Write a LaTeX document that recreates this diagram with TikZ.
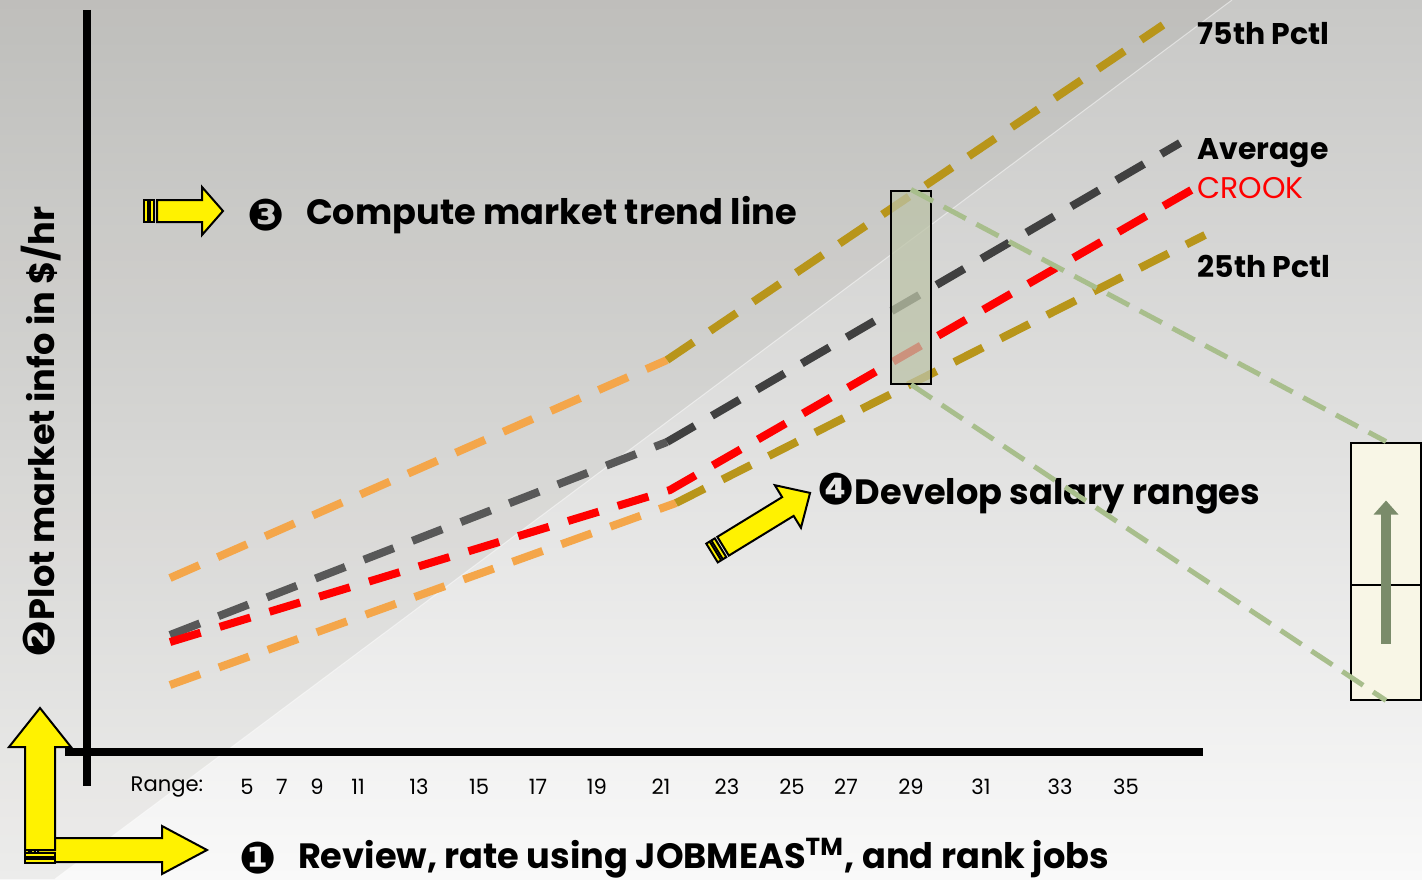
\documentclass[tikz,border=0pt]{standalone}
\usepackage{fontspec}
\setmainfont{Poppins}
\newfontfamily\dingfont{DejaVu Sans}[Scale=1.25]
\usepackage{tikz}
\usetikzlibrary{arrows,arrows.meta,calc,positioning,shapes}
\newdimen\pxdim
\pxdim=0.01cm
\definecolor{bgtop}{HTML}{C8C8C6}
\definecolor{bgbottom}{HTML}{F9F9F9}
\definecolor{pctllow}{HTML}{F4A64A}
\definecolor{pctlhigh}{HTML}{B8951A}
\definecolor{avglow}{HTML}{585858}
\definecolor{avghigh}{HTML}{404040}
\definecolor{crook}{HTML}{FF0000}
\definecolor{zoomgreen}{HTML}{A8BE8C}
\definecolor{boxgreen}{HTML}{BCC3A8}
\definecolor{boxcream}{HTML}{F8F6E6}
\definecolor{arrowgreen}{HTML}{7A8B6A}
\tikzstyle{trend}=[
  line width=8\pxdim,
  dash pattern=on 32\pxdim off 20\pxdim,
]
\tikzstyle{axis}=[
  black,
  line width=8\pxdim,
]
\tikzstyle{steplabel}=[
  font={\fontsize{10pt}{12pt}\selectfont\bfseries},
  inner sep=0pt,
]
\tikzstyle{pctl}=[
  anchor=west,
  font={\fontsize{8.5pt}{10pt}\selectfont\bfseries},
  inner sep=0pt,
]
\tikzstyle{tick}=[
  font={\fontsize{6pt}{7pt}\selectfont},
  inner sep=0pt,
]
\tikzstyle{zoomline}=[
  color=zoomgreen,
  line width=5\pxdim,
  dash pattern=on 25\pxdim off 12\pxdim,
]
\tikzstyle{yellowarrow}=[
  draw=black,
  fill=yellow,
  line width=2\pxdim,
]
\tikzstyle{zoombox}=[
  draw=black,
  fill=boxgreen,
  fill opacity=.75,
  inner sep=0pt,
  line width=2\pxdim,
  minimum height=193\pxdim,
  minimum width=40\pxdim,
  rectangle,
]
\tikzstyle{rangebox}=[
  draw=black,
  fill=boxcream,
  inner sep=0pt,
  line width=2\pxdim,
  minimum height=257\pxdim,
  minimum width=70\pxdim,
  rectangle,
]
\tikzset{
  x=0.01cm,
  y=-0.01cm,
  pics/stripearrow/.style args={#1/#2/#3/#4}{code={
    \draw [yellowarrow] (13,-#2) -- ({#1-#4},-#2) -- ({#1-#4},-#3) -- (#1,0)
      -- ({#1-#4},#3) -- ({#1-#4},#2) -- (13,#2) -- cycle;
    \draw [yellowarrow] (0,-#2) rectangle (4,#2);
    \draw [yellowarrow] (6,-#2) rectangle (10,#2);
  }},
}
\begin{document}
\begin{tikzpicture}
  \useasboundingbox (0,0) rectangle (1422,879);
  \shade [top color=bgtop, bottom color=bgbottom] (0,0) rectangle (1422,879);
  \fill [black!70!olive, opacity=.065] (0,0) -- (1232,0) -- (55,879) -- (0,879) -- cycle;
  \draw [white, opacity=.5, line width=1\pxdim] (1232,0) -- (55,879);
  %%
  \draw [axis] (87,10) -- (87,786);
  \draw [axis] (65,752) -- (1203,752);
  \node (range) [tick, anchor=west] at (130,787) {Range:};
  \foreach \n/\x in {5/247,7/282,9/317,11/358,13/419,15/479,17/538,19/597,
    21/661,23/727,25/792,27/846,29/911,31/981,33/1060,35/1126}
    \node (tick\n) [tick] at (\x,787) {\n};
  %%
  \coordinate (p75a) at (170,578);
  \coordinate (p75b) at (667,360);
  \coordinate (p75c) at (1163,25);
  \coordinate (avga) at (170,635);
  \coordinate (avgb) at (667,442);
  \coordinate (avgc) at (1180,143);
  \coordinate (crka) at (170,642);
  \coordinate (crkb) at (670,490);
  \coordinate (crkc) at (1200,185);
  \coordinate (p25a) at (170,685);
  \coordinate (p25b) at (676,503);
  \coordinate (p25c) at (1205,235);
  \draw [trend, pctllow] (p75a) -- (p75b);
  \draw [trend, pctlhigh] (p75b) -- (p75c);
  \draw [trend, avglow] (avga) -- (avgb);
  \draw [trend, avghigh] (avgb) -- (avgc);
  \draw [trend, crook] (crka) -- (crkb) -- (crkc);
  \draw [trend, pctllow] (p25a) -- (p25b);
  \draw [trend, pctlhigh] (p25b) -- (p25c);
  %%
  \node (p75lab) [pctl] at (1197,34) {75th Pctl};
  \node (avglab) [pctl] at (1197,153) {Average};
  \node (crklab) [pctl, crook, font={\fontsize{8.5pt}{10pt}\selectfont}] at (1197,188) {CROOK};
  \node (p25lab) [pctl] at (1197,266) {25th Pctl};
  %%
  \node (step3) [steplabel] at (266,215) {\dingfont ❸};
  \node (compute) [steplabel, right=20\pxdim of step3] {Compute market trend line};
  \node (step1) [steplabel] at (258,858) {\dingfont ❶};
  \node (review) [steplabel, right=20\pxdim of step1] {Review, rate using JOBMEAS\textsuperscript{TM}, and rank jobs};
  \node (plot) [steplabel, rotate=90] at (41,432) {{\dingfont ❷}Plot market info in \$/hr};
  \node (develop) [steplabel, anchor=west] at (817,494) {{\dingfont ❹}Develop salary ranges};
  %%
  \node (range29) [zoombox] at (911,287) {};
  \node (rangebox) [rangebox] at (1386,571) {};
  \draw [zoomline] (range29.north) -- (rangebox.north);
  \draw [zoomline] (range29.south) -- (rangebox.south);
  \draw [black, line width=2\pxdim] ($(rangebox.west)+(0,14)$) -- ($(rangebox.east)+(0,14)$);
  \draw [-{Triangle[width=0.24cm,length=0.14cm]}, arrowgreen, line width=10\pxdim]
    ($(rangebox.south)+(0,-57)$) -- ($(rangebox.north)+(0,59)$);
  %%
  \pic at (144,211) {stripearrow=79/11/24/21};
  \pic [rotate=31.5] at (712,553) {stripearrow=115/11/25/26};
  \pic at (25,850) {stripearrow=182/12/24/45};
  \pic [rotate=90] at (40,863) {stripearrow=155/15/31/39};
\end{tikzpicture}
\end{document}
